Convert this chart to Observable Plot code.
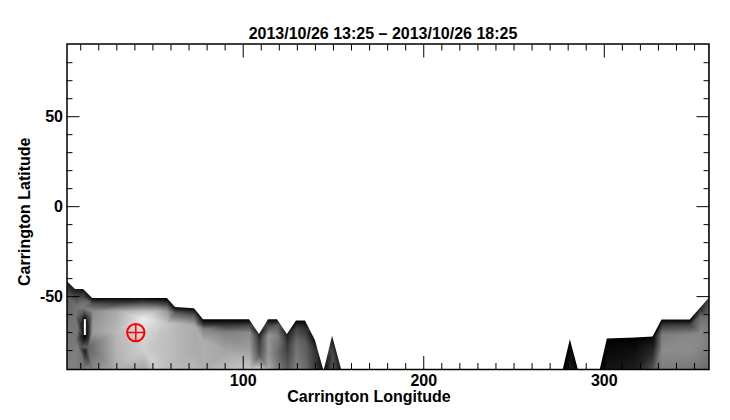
<!DOCTYPE html>
<html><head><meta charset="utf-8">
<style>html,body{margin:0;padding:0;background:#fff}svg{display:block}</style>
<script src="https://cdn.jsdelivr.net/npm/d3@7"></script>
<script src="https://cdn.jsdelivr.net/npm/@observablehq/plot@0.6"></script>
</head><body>
<script>
const titleText = "2013/10/26 13:25 – 2013/10/26 18:25";
const majorLon = [100, 200, 300];
const minorLon = [10,20,30,40,50,60,70,80,90,110,120,130,140,150,160,170,180,190,210,220,230,240,250,260,270,280,290,310,320,330,340,350];
const majorLat = [-50, 0, 50];
const minorLat = [-80,-70,-60,-40,-30,-20,-10,10,20,30,40,60,70,80];

// Outline of the covered area
const edgeLon = [2.4,7.1,11.6,16.6,58,62.5,73,78,103.5,109,114,119,124.5,129.5,134.5,140,144.5,145,149.5,154.5,277.3,281.2,285.6,297.8,301.7,317,327,332,347.6,358];
const edgeLat = [-41.5,-46,-46,-51,-51,-56,-56.7,-62.8,-62.8,-71,-62.8,-62.8,-71,-63.5,-63.5,-74.4,-90.5,-90.5,-72,-90.5,-90.5,-74,-90.5,-90.5,-73.5,-73,-72.5,-63,-63,-51];

// Samples per longitude column
const colLon = [2.4,7.1,8.3,10.2,11.6,12.2,14.2,16.6,30,45,52,58,62.5,73,78,90,103.5,109,114,119,124.5,129.5,134.5,140,144.5,145,149.5,154.5,277.3,281.2,285.6,297.8,301.7,317,327,332,347.6,353,358];
const colLat = [
 [-41.5,-50,-70,-90.5],
 [-46,-50,-60,-75,-90.5],
 [-56,-68,-78,-90.5],
 [-53,-60,-66,-72,-78,-90.5],
 [-46,-50,-56],
 [-60,-63,-72,-80,-88,-90.5],
 [-53,-60,-66,-72,-78,-90.5],
 [-51,-54,-58,-70,-90.5],
 [-51,-54,-58,-70,-90.5],
 [-51,-54,-58,-62,-70,-80,-90.5],
 [-51,-54,-58,-64,-75,-90.5],
 [-51,-54,-58,-65,-75,-90.5],
 [-56,-59,-65,-90.5],
 [-56.7,-60,-66,-78,-90.5],
 [-62.8,-65,-68,-75,-90.5],
 [-62.8,-66,-70,-80,-90.5],
 [-62.8,-66,-70,-80,-90.5],
 [-71,-75,-82,-90.5],
 [-62.8,-66,-72,-82,-90.5],
 [-62.8,-66,-72,-82,-90.5],
 [-71,-78,-90.5],
 [-63.5,-68,-75,-90.5],
 [-63.5,-68,-75,-90.5],
 [-74.4,-80,-90.5],
 [-90.5],
 [-90.5],
 [-72,-80,-90.5],
 [-90.5],
 [-90.5],
 [-74,-90.5],
 [-90.5],
 [-90.5],
 [-73.5,-80,-90.5],
 [-73,-80,-90.5],
 [-72.5,-80,-90.5],
 [-63,-66,-71,-80,-90.5],
 [-63,-66,-71,-80,-90.5],
 [-57,-61,-70,-90.5],
 [-51,-60,-75,-90.5]
];
const colShade = [
 [30,95,118,130],
 [25,70,115,120,125],
 [120,120,125,130],
 [110,90,40,40,90,130],
 [20,70,125],
 [60,0,0,30,110,130],
 [110,90,40,40,100,135],
 [10,80,140,155,135],
 [10,70,170,185,175],
 [10,90,190,235,215,205,165],
 [0,80,185,215,195,205],
 [0,60,150,195,190,190],
 [5,90,185,185],
 [5,80,170,170,185],
 [0,40,130,175,175],
 [0,60,130,165,190],
 [0,70,140,160,200],
 [30,60,80,215],
 [10,70,150,150,170],
 [10,90,130,110,130],
 [30,60,90],
 [5,70,110,130],
 [5,50,90,110],
 [10,50,60],
 [10],
 [10],
 [20,70,90],
 [20],
 [0],
 [0,30],
 [5],
 [5],
 [0,10,20],
 [0,15,30],
 [5,40,85],
 [5,60,125,140,125],
 [5,70,135,140,120],
 [40,105,135,115],
 [70,110,130,105]
];
const samples = colLon.flatMap((lon, i) => colLat[i].map((lat, j) => ({lon, lat, shade: colShade[i][j]})));
const edge = edgeLon.map((lon, i) => ({lon, lat: edgeLat[i]}));

const gapLon = [12.3];
const gapLat1 = [-62.8];
const gapLat2 = [-71.6];
const markLon = [40.5];
const markLat = [-70];

const font = "'Liberation Sans', Arial, sans-serif";
const chart = Plot.plot({
  width: 730, height: 420,
  marginLeft: 66.5, marginRight: 21.5, marginTop: 43.5, marginBottom: 51,
  style: {fontFamily: font, background: "white", color: "black"},
  x: {domain: [2.4, 358], label: null},
  y: {domain: [-90.5, 90.4], label: null},
  color: {type: "linear", domain: [0, 255], range: ["black", "white"]},
  marks: [
    Plot.raster(samples, {x: "lon", y: "lat", fill: "shade", interpolate: "barycentric", pixelSize: 1, imageRendering: "auto"}),
    Plot.areaY(edge, {x: "lon", y1: "lat", y2: () => 90.4, fill: "white"}),
    Plot.ruleX(gapLon, {x: d => d, y1: gapLat1, y2: gapLat2, stroke: "white", strokeWidth: 2}),
    Plot.dot(markLon, {x: d => d, y: markLat, r: 8.7, stroke: "#f00", strokeWidth: 2}),
    Plot.dot(markLon, {x: d => d, y: markLat, r: 5.85, symbol: "plus", stroke: "#f00", strokeWidth: 1.5}),
    Plot.axisX({anchor: "bottom", ticks: majorLon, tickSize: -13, tickPadding: 18, tickFormat: d => d, fontSize: 16, fontWeight: "bold", label: null, strokeWidth: 1}),
    Plot.axisX({anchor: "bottom", ticks: minorLon, tickSize: -6, text: null, label: null}),
    Plot.axisX({anchor: "top", ticks: majorLon, tickSize: -13, text: null, label: null}),
    Plot.axisX({anchor: "top", ticks: minorLon, tickSize: -6, text: null, label: null}),
    Plot.axisY({anchor: "left", ticks: majorLat, tickSize: -13, tickPadding: 17, tickFormat: d => d, fontSize: 16, fontWeight: "bold", label: null}),
    Plot.axisY({anchor: "left", ticks: minorLat, tickSize: -6, text: null, label: null}),
    Plot.axisY({anchor: "right", ticks: majorLat, tickSize: -13, text: null, label: null}),
    Plot.axisY({anchor: "right", ticks: minorLat, tickSize: -6, text: null, label: null}),
    Plot.frame({stroke: "black", strokeWidth: 1.5}),
    Plot.text([titleText], {frameAnchor: "top", dx: -5, dy: -5, text: d => d, fontSize: 16, fontWeight: "bold", lineAnchor: "bottom"}),
    Plot.text(["Carrington Longitude"], {frameAnchor: "bottom", dx: -19, dy: 32, text: d => d, fontSize: 16, fontWeight: "bold"}),
    Plot.text(["Carrington Latitude"], {frameAnchor: "left", textAnchor: "middle", dx: -42, dy: 5, rotate: -90, text: d => d, fontSize: 16, fontWeight: "bold"})
  ]
});
document.body.appendChild(chart);
</script>
</body></html>
